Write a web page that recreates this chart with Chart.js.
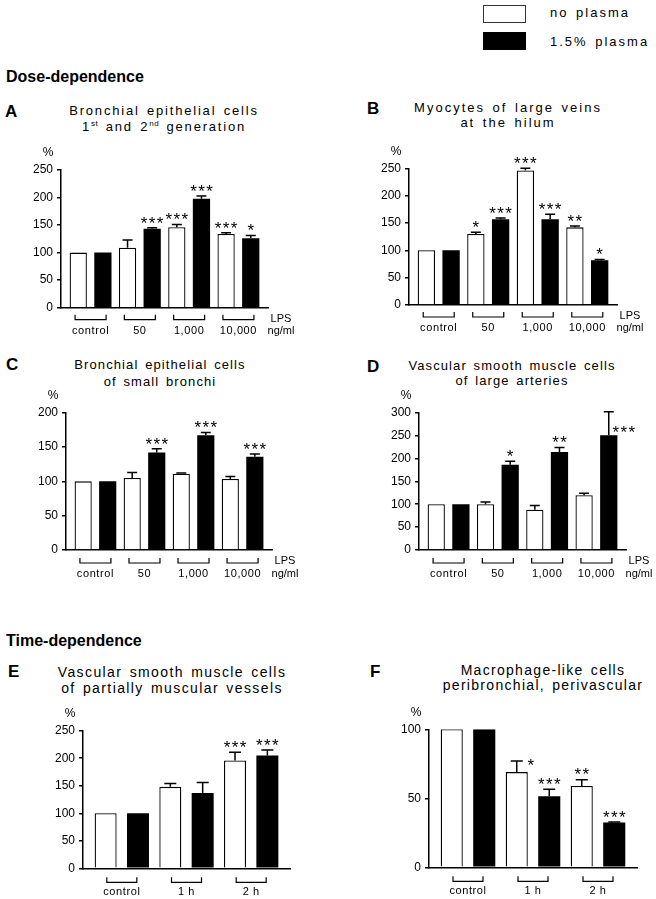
<!DOCTYPE html>
<html>
<head>
<meta charset="utf-8">
<script src="https://cdn.jsdelivr.net/npm/chart.js@4.4.1/dist/chart.umd.min.js"></script>
<style>
body { margin: 0; background: #fff; }
#page { position: relative; width: 656px; height: 899px; overflow: hidden;
        font-family: Arial, "Liberation Sans", sans-serif; color: #000; }
.abs { position: absolute; white-space: nowrap; }
.letter { font-weight: bold; font-size: 17px; line-height: 16px; }
.section { font-weight: bold; font-size: 16px; line-height: 16px; }
.title { text-align: center; width: 320px; font-size: 13px; line-height: 16px; word-spacing: 2px; }
.title sup { font-size: 8px; line-height: 0; vertical-align: 5px; letter-spacing: 0.5px; }
.legtxt { font-size: 13px; line-height: 16px; letter-spacing: 2px; word-spacing: 2px; }
canvas { position: absolute; }
</style>
</head>
<body>
<div id="page">
  <div class="abs" style="left:483px;top:5px;width:43px;height:18px;border:1px solid #333;box-sizing:border-box;"></div>
  <div class="abs" style="left:483px;top:32px;width:43px;height:18px;background:#000;"></div>
  <div class="abs legtxt" style="left:550px;top:5px;">no plasma</div>
  <div class="abs legtxt" style="left:550px;top:34px;">1.5% plasma</div>

  <div class="abs section" style="left:6px;top:69px;">Dose-dependence</div>
  <div class="abs section" style="left:6px;top:633px;">Time-dependence</div>

  <div class="abs letter" style="left:5px;top:104px;">A</div>
  <div class="abs letter" style="left:367px;top:101px;">B</div>
  <div class="abs letter" style="left:6px;top:357px;">C</div>
  <div class="abs letter" style="left:367px;top:359px;">D</div>
  <div class="abs letter" style="left:8px;top:664px;">E</div>
  <div class="abs letter" style="left:370px;top:664px;">F</div>

  <div class="abs title" style="left:4px;top:103px;letter-spacing:1.8px;">Bronchial epithelial cells<br>1<sup>st</sup> and 2<sup>nd</sup> generation</div>
  <div class="abs title" style="left:348px;top:100px;line-height:15px;letter-spacing:2px;">Myocytes of large veins<br>at the hilum</div>
  <div class="abs title" style="left:0px;top:356px;line-height:17px;letter-spacing:1.1px;">Bronchial epithelial cells<br>of small bronchi</div>
  <div class="abs title" style="left:352px;top:358px;line-height:15px;letter-spacing:1.1px;">Vascular smooth muscle cells<br>of large arteries</div>
  <div class="abs title" style="left:12px;top:664px;font-size:14px;letter-spacing:1.4px;">Vascular smooth muscle cells<br>of partially muscular vessels</div>
  <div class="abs title" style="left:383px;top:663px;font-size:14px;line-height:15px;letter-spacing:1.3px;">Macrophage-like cells<br>peribronchial, perivascular</div>
</div>
<script>
// groups on the x axis
const doseGroups = ['control', '50', '1,000', '10,000'];
const timeGroups = ['control', '1 h', '2 h'];

// A  bronchial epithelial cells, 1st and 2nd generation
const aNoPlasma = [100, 109, 146, 134];
const aNoPlasmaSem = [0, 14, 5, 2];
const aNoPlasmaSig = ['', '', '***', '***'];
const aPlasma = [100, 143.5, 198, 126];
const aPlasmaSem = [0, 1.5, 5, 5];
const aPlasmaSig = ['', '***', '***', '*'];

// B  myocytes of large veins at the hilum
const bNoPlasma = [100, 130, 246, 142];
const bNoPlasmaSem = [0, 3, 4, 2.5];
const bNoPlasmaSig = ['', '*', '***', '**'];
const bPlasma = [100, 157, 157, 82];
const bPlasmaSem = [0, 2, 9, 1];
const bPlasmaSig = ['', '***', '***', '*'];

// C  bronchial epithelial cells of small bronchi
const cNoPlasma = [100, 105, 111, 103.5];
const cNoPlasmaSem = [0, 8, 1, 3.5];
const cNoPlasmaSig = ['', '', '', ''];
const cPlasma = [100, 142, 167, 136];
const cPlasmaSem = [0, 5.5, 4, 4];
const cPlasmaSig = ['', '***', '***', '***'];

// D  vascular smooth muscle cells of large arteries
const dNoPlasma = [100, 100, 88, 119.5];
const dNoPlasmaSem = [0, 5, 9, 4.5];
const dNoPlasmaSig = ['', '', '', ''];
const dPlasma = [100, 186, 214, 251];
const dPlasmaSem = [0, 8, 10, 51];
const dPlasmaSig = ['', '*', '**', '***'];

// E  vascular smooth muscle cells of partially muscular vessels
const eNoPlasma = [100, 148, 196];
const eNoPlasmaSem = [0, 6, 15];
const eNoPlasmaSig = ['', '', '***'];
const ePlasma = [100, 137, 205];
const ePlasmaSem = [0, 19, 10];
const ePlasmaSig = ['', '', '***'];

// F  macrophage-like cells
const fNoPlasma = [100, 69, 59];
const fNoPlasmaSem = [0, 8, 4.5];
const fNoPlasmaSig = ['', '*', '**'];
const fPlasma = [100, 51.5, 32.5];
const fPlasmaSem = [0, 5, 0.3];
const fPlasmaSig = ['', '***', '***'];

const FONT = 'Arial, "Liberation Sans", sans-serif';
const Y_AXIS_W = 30;

function makePanel(p) {
    var cv = document.createElement('canvas');
    cv.width = p.box[2];
    cv.height = p.box[3];
    cv.style.left = p.box[0] + 'px';
    cv.style.top = p.box[1] + 'px';
    document.getElementById('page').appendChild(cv);

    var pad = {
        left: p.plot[0] - p.box[0] - Y_AXIS_W,
        top: p.plot[1] - p.box[1],
        right: p.box[0] + p.box[2] - p.plot[2],
        bottom: p.box[1] + p.box[3] - p.plot[3]
    };
    var n = p.groups.length;
    var xy = arr => arr.map((v, i) => ({ x: i, y: v }));
    var sems = [p.noSem, p.plSem];
    var sigs = [p.noSig, p.plSig];

    // error bars (upper only), significance stars, brackets and group labels
    var extras = {
        id: 'extras',
        afterDatasetsDraw(chart) {
            var ctx = chart.ctx, y = chart.scales.y;
            ctx.save();
            ctx.strokeStyle = '#000';
            ctx.fillStyle = '#000';
            ctx.lineWidth = 1.5;
            chart.data.datasets.forEach((ds, d) => {
                chart.getDatasetMeta(d).data.forEach((bar, i) => {
                    var v = ds.data[i].y, s = sems[d][i];
                    var topPx = y.getPixelForValue(v + s);
                    if (s > 0) {
                        ctx.beginPath();
                        ctx.moveTo(bar.x, bar.y);
                        ctx.lineTo(bar.x, topPx);
                        ctx.moveTo(bar.x - p.cap / 2, topPx);
                        ctx.lineTo(bar.x + p.cap / 2, topPx);
                        ctx.stroke();
                    }
                    var mark = sigs[d][i];
                    if (mark) {
                        var shift = (p.starShift && p.starShift[d + ':' + i]) || [0, -9];
                        var cx = bar.x + shift[0], cy = topPx + shift[1];
                        ctx.font = '17px ' + FONT;
                        ctx.textAlign = 'center';
                        ctx.textBaseline = 'alphabetic';
                        for (var k = 0; k < mark.length; k++) {
                            ctx.fillText('*', cx + (k - (mark.length - 1) / 2) * 8, cy + 9.8);
                        }
                    }
                });
            });
            ctx.restore();
        },
        afterDraw(chart) {
            var ctx = chart.ctx, x = chart.scales.x, area = chart.chartArea;
            var b = area.bottom;
            ctx.save();
            ctx.strokeStyle = '#000';
            ctx.fillStyle = '#000';
            ctx.lineWidth = 1.2;
            ctx.textAlign = 'center';
            ctx.textBaseline = 'middle';
            ctx.font = '11px ' + FONT;
            ctx.letterSpacing = '0.6px';
            p.groups.forEach((g, i) => {
                var cx = x.getPixelForValue(i);
                ctx.beginPath();
                ctx.moveTo(cx - p.bracket, b + p.brTop);
                ctx.lineTo(cx - p.bracket, b + p.brTop + 5);
                ctx.lineTo(cx + p.bracket, b + p.brTop + 5);
                ctx.lineTo(cx + p.bracket, b + p.brTop);
                ctx.stroke();
                ctx.fillText(g, cx, b + p.labelDy);
            });
            ctx.letterSpacing = '0px';
            if (p.unit) {
                ctx.fillText('LPS', area.right + 13, b + 11);
                ctx.fillText('ng/ml', area.right + 13, b + p.labelDy);
            }
            ctx.font = '12px ' + FONT;
            ctx.fillText('%', area.left - 13, area.top - 17);
            ctx.restore();
        }
    };

    return new Chart(cv, {
        type: 'bar',
        data: {
            datasets: [{
                label: 'no plasma',
                data: xy(p.no),
                backgroundColor: '#fff',
                borderColor: '#000',
                borderWidth: 1.3,
                categoryPercentage: 1,
                barPercentage: p.barPct
            }, {
                label: '1.5% plasma',
                data: xy(p.pl),
                backgroundColor: '#000',
                borderColor: '#000',
                borderWidth: 0,
                categoryPercentage: 1,
                barPercentage: p.barPct
            }]
        },
        options: {
            responsive: false,
            animation: false,
            events: [],
            layout: { padding: pad },
            plugins: {
                legend: { display: false },
                tooltip: { enabled: false }
            },
            scales: {
                x: {
                    type: 'linear',
                    min: -0.6,
                    max: n - 1 + 0.6,
                    offset: false,
                    ticks: { display: false },
                    grid: { display: false, offset: false },
                    border: { display: true, color: '#000', width: 1.5 },
                    // one tick per group so the bar width is taken from the group spacing
                    afterBuildTicks: s => { s.ticks = p.groups.map((g, i) => ({ value: i })); },
                    afterFit: s => { s.height = 0; }
                },
                y: {
                    min: 0,
                    max: p.yMax,
                    ticks: { stepSize: 50, color: '#000', padding: 4, font: { family: FONT, size: 12 } },
                    grid: { drawOnChartArea: false, drawTicks: true, tickLength: 4, color: '#000', lineWidth: 1.5 },
                    border: { display: true, color: '#000', width: 1.5 },
                    afterFit: s => { s.width = Y_AXIS_W; }
                }
            }
        },
        plugins: [extras]
    });
}

var dose = { groups: doseGroups, barPct: 0.7, cap: 10, bracket: 15.5, brTop: 7, labelDy: 23, unit: true };
var time = { groups: timeGroups, barPct: 0.68, cap: 12, bracket: 15, brTop: 9, labelDy: 24, unit: false };

makePanel(Object.assign({}, dose, {
    box: [0, 140, 320, 200], plot: [61, 170, 268, 307.7], yMax: 250,
    no: aNoPlasma, noSem: aNoPlasmaSem, noSig: aNoPlasmaSig,
    pl: aPlasma, plSem: aPlasmaSem, plSig: aPlasmaSig
}));
makePanel(Object.assign({}, dose, {
    box: [330, 140, 326, 200], plot: [409, 168.3, 617, 305], yMax: 250,
    no: bNoPlasma, noSem: bNoPlasmaSem, noSig: bNoPlasmaSig,
    pl: bPlasma, plSem: bPlasmaSem, plSig: bPlasmaSig
}));
makePanel(Object.assign({}, dose, {
    box: [0, 390, 320, 200], plot: [66, 412.7, 272, 550], yMax: 200, brTop: 8, labelDy: 24,
    no: cNoPlasma, noSem: cNoPlasmaSem, noSig: cNoPlasmaSig,
    pl: cPlasma, plSem: cPlasmaSem, plSig: cPlasmaSig
}));
makePanel(Object.assign({}, dose, {
    box: [330, 390, 326, 200], plot: [419, 412.7, 626, 550], yMax: 300, brTop: 8, labelDy: 24,
    starShift: { '1:3': [15, 16] },
    no: dNoPlasma, noSem: dNoPlasmaSem, noSig: dNoPlasmaSig,
    pl: dPlasma, plSem: dPlasmaSem, plSig: dPlasmaSig
}));
makePanel(Object.assign({}, time, {
    box: [0, 700, 320, 199], plot: [83, 730.7, 290, 868.3], yMax: 250,
    no: eNoPlasma, noSem: eNoPlasmaSem, noSig: eNoPlasmaSig,
    pl: ePlasma, plSem: ePlasmaSem, plSig: ePlasmaSig
}));
makePanel(Object.assign({}, time, {
    box: [330, 700, 326, 199], plot: [429, 729.3, 637, 867.3], yMax: 100,
    starShift: { '0:1': [14, 0] },
    no: fNoPlasma, noSem: fNoPlasmaSem, noSig: fNoPlasmaSig,
    pl: fPlasma, plSem: fPlasmaSem, plSig: fPlasmaSig
}));
</script>
</body>
</html>
